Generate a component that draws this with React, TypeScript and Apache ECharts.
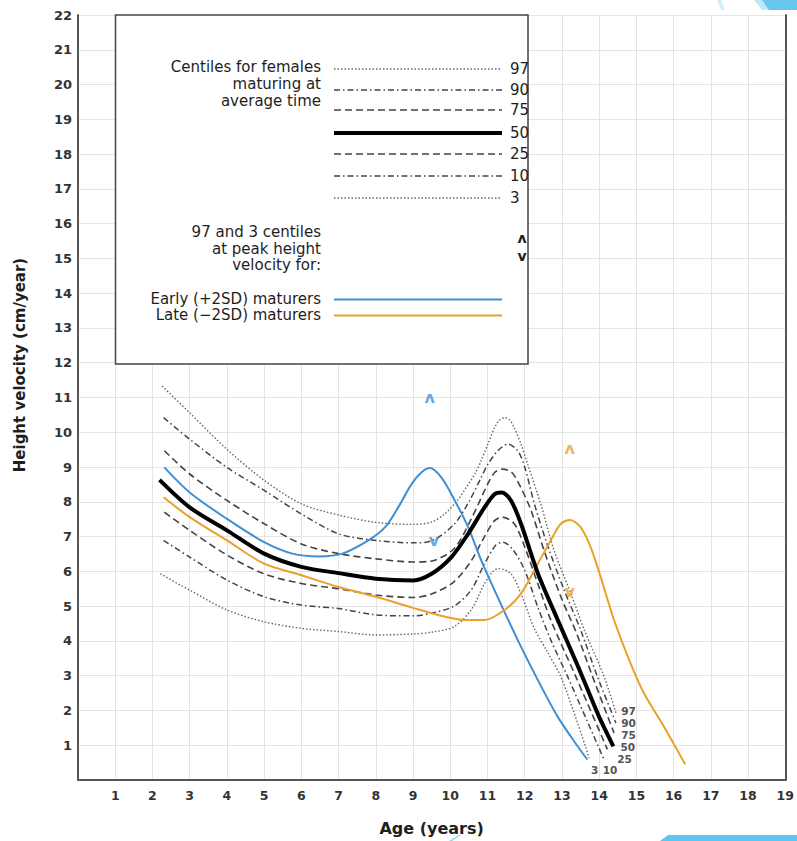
import React, { useEffect, useRef } from "react";
import * as echarts from "echarts";

// ---- axes ----
const ageMin = 0;
const ageMax = 19;
const velMin = 0;
const velMax = 22;

// ---- centile curves (age, cm/year) ----
const centile97 = [[2.26,11.33],[3,10.56],[4,9.51],[5,8.62],[6,7.94],[7,7.62],[8,7.41],[9,7.35],[9.5,7.42],[9.85,7.65],[10.2,8.05],[10.45,8.45],[10.66,8.8],[10.83,9.18],[11.01,9.66],[11.19,10.13],[11.32,10.35],[11.47,10.42],[11.6,10.35],[11.72,10.13],[11.9,9.66],[12.08,9.08],[12.43,7.94],[12.79,6.6],[13.24,5.36],[13.6,4.32],[14.13,2.98],[14.45,1.93]];
const centile90 = [[2.3,10.42],[3,9.8],[4,8.99],[5,8.33],[6,7.65],[7,7.08],[8,6.89],[9,6.82],[9.5,6.88],[10.1,7.35],[10.5,8.0],[10.83,8.7],[11.01,9.08],[11.28,9.47],[11.55,9.66],[11.81,9.47],[12.0,9.0],[12.26,7.94],[12.6,6.79],[13.06,5.46],[13.5,4.32],[13.95,2.98],[14.45,1.64]];
const centile75 = [[2.32,9.47],[3,8.8],[4,8.04],[5,7.37],[6,6.79],[7,6.51],[8,6.36],[9,6.27],[9.5,6.3],[10.1,6.65],[10.56,7.5],[11.0,8.5],[11.2,8.85],[11.4,8.94],[11.65,8.85],[11.9,8.4],[12.17,7.75],[12.52,6.6],[12.97,5.27],[13.4,4.2],[13.82,2.98],[14.4,1.35]];
const centile50 = [[2.19,8.63],[3,7.84],[4,7.18],[5,6.51],[6,6.13],[7,5.95],[8,5.79],[9,5.74],[9.5,5.93],[10.03,6.41],[10.48,7.08],[10.92,7.84],[11.19,8.22],[11.38,8.27],[11.63,8.04],[11.9,7.37],[12.17,6.51],[12.39,5.84],[12.88,4.62],[13.37,3.42],[13.73,2.5],[14.04,1.72],[14.38,0.97]];
const centile25 = [[2.32,7.7],[3,7.18],[4,6.47],[5,5.93],[6,5.65],[7,5.5],[8,5.32],[9,5.25],[9.5,5.35],[10.1,5.7],[10.56,6.3],[10.92,7.0],[11.19,7.46],[11.4,7.56],[11.72,7.37],[12.0,6.7],[12.35,5.65],[12.7,4.6],[13.37,2.98],[14.22,0.88]];
const centile10 = [[2.3,6.89],[3,6.41],[4,5.75],[5,5.27],[6,5.03],[7,4.93],[8,4.75],[9,4.72],[9.5,4.8],[10.1,5.0],[10.56,5.46],[10.92,6.22],[11.22,6.75],[11.42,6.84],[11.7,6.6],[12.0,6.03],[12.35,4.98],[12.7,4.03],[13.15,2.98],[14.13,0.59]];
const centile3 = [[2.21,5.93],[3,5.46],[4,4.89],[5,4.55],[6,4.36],[7,4.27],[8,4.17],[9,4.2],[9.5,4.25],[10.1,4.41],[10.56,4.89],[10.92,5.65],[11.15,6.0],[11.3,6.08],[11.63,5.93],[11.9,5.36],[12.26,4.35],[12.6,3.7],[13.0,2.9],[13.73,0.64]];

// ---- early / late maturers (50th centile) ----
const earlyMaturers = [[2.32,8.99],[3,8.27],[4,7.51],[5,6.84],[5.76,6.51],[6.47,6.43],[7.1,6.51],[7.8,6.89],[8.25,7.27],[8.6,7.84],[8.96,8.51],[9.23,8.85],[9.45,8.97],[9.76,8.7],[10.12,8.04],[10.48,7.27],[10.83,6.32],[11.23,5.36],[11.81,4.03],[12.35,2.88],[12.88,1.83],[13.42,0.97],[13.68,0.59]];
const lateMaturers = [[2.3,8.13],[3,7.56],[4,6.89],[5,6.22],[6,5.89],[7,5.55],[8,5.27],[9,4.95],[9.85,4.7],[10.39,4.6],[10.92,4.6],[11.46,4.89],[11.9,5.36],[12.35,6.22],[12.7,6.89],[12.97,7.37],[13.22,7.48],[13.5,7.27],[13.77,6.7],[14.04,5.84],[14.4,4.6],[14.84,3.36],[15.2,2.5],[15.73,1.55],[16.31,0.45]];

// ---- 97 / 3 centiles at peak height velocity ----
const earlyPeakMarks = [[9.45, 11.01, "ʌ"], [9.56, 6.89, "v"]];
const latePeakMarks = [[13.21, 9.54, "ʌ"], [13.21, 5.41, "v"]];

// ---- curve end labels ----
const endLabels = [[14.79,1.975,"97"],[14.79,1.632,"90"],[14.79,1.288,"75"],[14.77,0.945,"50"],[14.68,0.601,"25"],[14.29,0.3,"10"],[13.88,0.3,"3"]];

const legendCentiles = ["97", "90", "75", "50", "25", "10", "3"];

const FONT = "DejaVu Sans";
const BLUE = "#3f8fd4";
const ORANGE = "#e8a22a";
const DOT = [1.5, 2];
const DASHDOT = [6, 3, 1.5, 3];
const DASH = [7, 4];

const styleFor: Record<string, any> = {
  "97": { color: "#666", width: 1.4, type: DOT },
  "90": { color: "#444", width: 1.5, type: DASHDOT },
  "75": { color: "#444", width: 1.6, type: DASH },
  "50": { color: "#000", width: 4, type: "solid" },
  "25": { color: "#444", width: 1.6, type: DASH },
  "10": { color: "#444", width: 1.5, type: DASHDOT },
  "3": { color: "#666", width: 1.4, type: DOT },
};

export default function App() {
  const ref = useRef<HTMLDivElement>(null);
  useEffect(() => {
    if (!ref.current) return;
    const chart = echarts.init(ref.current, undefined, { renderer: "svg" });

    const centileData: Record<string, number[][]> = {
      "97": centile97, "90": centile90, "75": centile75, "50": centile50,
      "25": centile25, "10": centile10, "3": centile3,
    };

    const lineSeries = legendCentiles.map((k) => ({
      type: "line",
      name: "P" + k,
      data: centileData[k],
      showSymbol: false,
      smooth: 0.3,
      z: k === "50" ? 5 : 2,
      lineStyle: { ...styleFor[k], cap: "butt" },
    }));

    // legend graphics
    const lx1 = 334, lx2 = 502;
    const legendY: Record<string, number> = { "97": 69, "90": 90, "75": 110, "50": 133, "25": 154, "10": 176, "3": 198 };
    const g: any[] = [];
    g.push({ type: "rect", shape: { x: 115.5, y: 15, width: 412.5, height: 349 }, style: { fill: "#fff", stroke: "#444", lineWidth: 1.5 }, z: 100 });
    const txt = (text: string, x: number, y: number, align = "right", extra: any = {}) =>
      g.push({ type: "text", x, y, z: 101, style: { text, fill: "#1e1e1e", font: `15px "${FONT}"`, align, verticalAlign: "middle", ...extra } });
    txt("Centiles for females", 321, 67);
    txt("maturing at", 321, 84);
    txt("average time", 321, 101);
    txt("97 and 3 centiles", 321, 232);
    txt("at peak height", 321, 248.5);
    txt("velocity for:", 321, 265);
    txt("Early (+2SD) maturers", 321, 298.5);
    txt("Late (−2SD) maturers", 321, 315);
    legendCentiles.forEach((k) => {
      const s = styleFor[k];
      g.push({ type: "line", z: 101, shape: { x1: lx1, y1: legendY[k], x2: lx2, y2: legendY[k] }, style: { stroke: s.color, lineWidth: s.width, lineDash: Array.isArray(s.type) ? s.type : null } });
      txt(k, 510, legendY[k], "left");
    });
    g.push({ type: "line", z: 101, shape: { x1: lx1, y1: 299.5, x2: lx2, y2: 299.5 }, style: { stroke: BLUE, lineWidth: 2 } });
    g.push({ type: "line", z: 101, shape: { x1: lx1, y1: 315.5, x2: lx2, y2: 315.5 }, style: { stroke: ORANGE, lineWidth: 2 } });
    txt("ʌ", 522, 238, "center", { font: `bold 14px "${FONT}"` });
    txt("v", 522, 256, "center", { font: `bold 14px "${FONT}"` });

    // y axis title
    g.push({ type: "text", x: 20, y: 365, rotation: Math.PI / 2, z: 101, style: { text: "Height velocity (cm/year)", fill: "#1e1e1e", font: `bold 15px "${FONT}"`, align: "center", verticalAlign: "middle" } });

    // slide decorations
    g.push({ type: "polygon", z: 50, shape: { points: [[717, 0], [721, 0], [725, 10], [721, 10]] }, style: { fill: "#cfeffa" } });
    g.push({ type: "polygon", z: 50, shape: { points: [[754, 0], [797, 0], [797, 10], [762, 10]] }, style: { fill: "#bfe9f8" } });
    g.push({ type: "polygon", z: 51, shape: { points: [[762, 0], [797, 0], [797, 10], [769, 10]] }, style: { fill: "#66c6ee" } });
    g.push({ type: "polygon", z: 50, shape: { points: [[449, 841], [459, 835], [461, 835], [452, 841]] }, style: { fill: "#8fd3f1" } });
    g.push({ type: "polygon", z: 50, shape: { points: [[660, 841], [668, 835], [797, 835], [797, 841]] }, style: { fill: "#5ec5ee" } });

    const markerSeries = (data: any[], color: string) => ({
      type: "scatter",
      data,
      symbolSize: 0.01,
      z: 6,
      label: {
        show: true, position: "inside", formatter: (p: any) => p.data[2],
        color, fontFamily: FONT, fontWeight: "bold", fontSize: 16,
      },
    });

    chart.setOption({
      animation: false,
      backgroundColor: "#fff",
      grid: { left: 78, right: 8, top: 15, bottom: 57 },
      xAxis: {
        type: "value", min: ageMin, max: ageMax, interval: 1,
        name: "Age (years)", nameLocation: "middle", nameGap: 40,
        nameTextStyle: { fontFamily: FONT, fontWeight: "bold", fontSize: 16, color: "#1e1e1e" },
        axisLine: { show: true, onZero: false, lineStyle: { color: "#555", width: 2 } },
        axisTick: { show: false },
        axisLabel: { formatter: (v: number) => (v === 0 ? "" : String(v)), color: "#333", fontFamily: FONT, fontWeight: "bold", fontSize: 12.5, margin: 9 },
        splitLine: { show: true, lineStyle: { color: "#e4e4e4", width: 1 } },
      },
      yAxis: [
        {
          type: "value", min: velMin, max: velMax, interval: 1,
          axisLine: { show: true, onZero: false, lineStyle: { color: "#555", width: 2 } },
          axisTick: { show: false },
          axisLabel: { formatter: (v: number) => (v === 0 ? "" : String(v)), color: "#333", fontFamily: FONT, fontWeight: "bold", fontSize: 13, margin: 6 },
          splitLine: { show: true, lineStyle: { color: "#e4e4e4", width: 1 } },
        },
        {
          type: "value", min: velMin, max: velMax, interval: 1, position: "right",
          axisLine: { show: true, onZero: false, lineStyle: { color: "#555", width: 2 } },
          axisTick: { show: false }, axisLabel: { show: false }, splitLine: { show: false },
        },
      ],
      series: [
        ...lineSeries,
        { type: "line", name: "Early", data: earlyMaturers, showSymbol: false, smooth: 0.3, z: 4, lineStyle: { color: BLUE, width: 2 } },
        { type: "line", name: "Late", data: lateMaturers, showSymbol: false, smooth: 0.3, z: 4, lineStyle: { color: ORANGE, width: 2 } },
        markerSeries(earlyPeakMarks, BLUE),
        markerSeries(latePeakMarks, ORANGE),
        {
          type: "scatter", data: endLabels, symbolSize: 0.01, z: 6,
          label: { show: true, position: "inside", formatter: (p: any) => p.data[2], color: "#222", fontFamily: FONT, fontWeight: "bold", fontSize: 10.5, lineHeight: 10 },
        },
      ],
      graphic: g,
    });
    return () => chart.dispose();
  }, []);
  return <div ref={ref} style={{ position: "absolute", left: 0, top: 0, width: 797, height: 841 }} />;
}
